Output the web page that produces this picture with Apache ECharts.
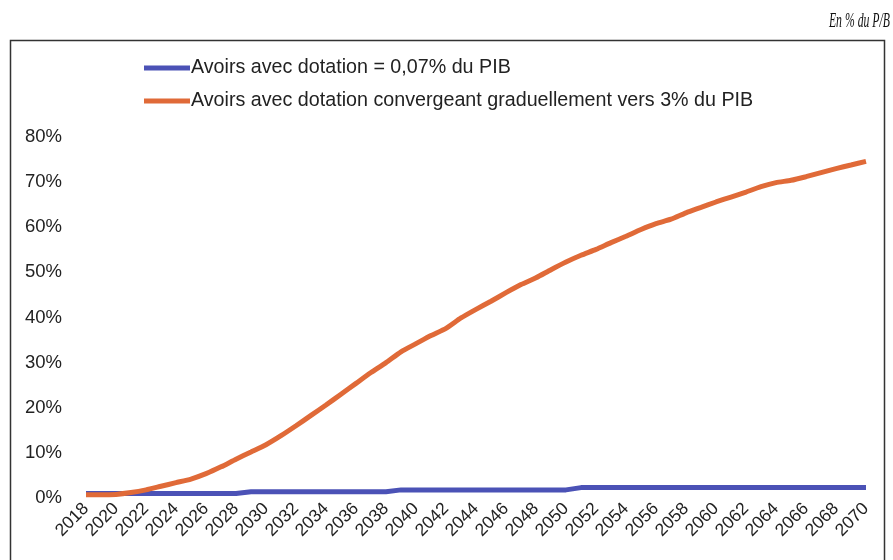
<!DOCTYPE html>
<html>
<head>
<meta charset="utf-8">
<script src="https://cdn.jsdelivr.net/npm/echarts@6/dist/echarts.min.js"></script>
<style>
  html, body { margin: 0; padding: 0; background: #fff; }
  #chart { width: 893px; height: 560px; }
</style>
</head>
<body>
<div id="chart"></div>
<script>
const years = [
  '2018', '2019', '2020', '2021', '2022', '2023', '2024', '2025', '2026', '2027',
  '2028', '2029', '2030', '2031', '2032', '2033', '2034', '2035', '2036', '2037',
  '2038', '2039', '2040', '2041', '2042', '2043', '2044', '2045', '2046', '2047',
  '2048', '2049', '2050', '2051', '2052', '2053', '2054', '2055', '2056', '2057',
  '2058', '2059', '2060', '2061', '2062', '2063', '2064', '2065', '2066', '2067',
  '2068', '2069', '2070'
]

// dotation constante 0,07% du PIB
const avoirsConstant = [
  1.0, 1.0, 1.0, 1.0, 1.0, 1.0, 1.0, 1.0, 1.0, 1.0,
  1.0, 1.4, 1.4, 1.4, 1.4, 1.4, 1.4, 1.4, 1.4, 1.4,
  1.4, 1.8, 1.8, 1.8, 1.8, 1.8, 1.8, 1.8, 1.8, 1.8,
  1.8, 1.8, 1.8, 2.3, 2.3, 2.3, 2.3, 2.3, 2.3, 2.3,
  2.3, 2.3, 2.3, 2.3, 2.3, 2.3, 2.3, 2.3, 2.3, 2.3,
  2.3, 2.3, 2.3
]

// dotation convergeant vers 3% du PIB
const avoirsConvergent = [
  0.7, 0.7, 0.8, 1.2, 1.8, 2.6, 3.4, 4.2, 5.4, 6.9,
  8.6, 10.2, 11.8, 13.8, 16.0, 18.3, 20.6, 23.0, 25.4, 27.8,
  30.0, 32.4, 34.2, 36.0, 37.6, 39.9, 41.8, 43.6, 45.5, 47.3,
  48.8, 50.6, 52.3, 53.8, 55.1, 56.6, 58.0, 59.5, 60.8, 61.8,
  63.2, 64.4, 65.6, 66.7, 67.8, 69.0, 69.9, 70.4, 71.2, 72.1,
  73.0, 73.8, 74.6
]

const seriesNames = [
  'Avoirs avec dotation = 0,07% du PIB',
  'Avoirs avec dotation convergeant graduellement vers 3% du PIB'
]

const colors = {
  blue: '#4b52b6',
  orange: '#e06a38',
  text: '#222222'
}

const chart = echarts.init(document.getElementById('chart'))

chart.setOption({
  animation: false,
  textStyle: { fontFamily: 'Liberation Sans, Arial, sans-serif' },
  graphic: [
    {
      type: 'rect',
      shape: { x: 10.5, y: 40.5, width: 874, height: 600 },
      style: { fill: 'none', stroke: '#333', lineWidth: 1.5 },
      silent: true
    },
    {
      type: 'text',
      x: 890,
      y: 21,
      scaleX: 0.56,
      style: {
        text: 'En % du P/B',
        align: 'right',
        verticalAlign: 'middle',
        font: 'italic 21px "Liberation Serif", "Times New Roman", serif',
        fill: '#111'
      }
    }
  ],
  legend: {
    orient: 'vertical',
    left: 139,
    top: 53,
    itemWidth: 46,
    itemHeight: 5,
    itemGap: 13,
    icon: 'rect',
    textStyle: { fontSize: 19.7, color: colors.text, padding: [0, 0, 0, -4] },
    data: seriesNames
  },
  grid: {
    left: 86,
    right: 27,
    top: 137,
    bottom: 62
  },
  xAxis: {
    type: 'category',
    data: years,
    boundaryGap: false,
    axisLine: { show: false },
    axisTick: { show: false },
    axisLabel: {
      interval: 1,
      rotate: 45,
      fontSize: 17.5,
      color: colors.text,
      margin: 8
    }
  },
  yAxis: {
    type: 'value',
    min: 0,
    max: 80,
    interval: 10,
    axisLine: { show: false },
    axisTick: { show: false },
    splitLine: { show: false },
    axisLabel: {
      formatter: '{value}%',
      fontSize: 18.5,
      color: colors.text,
      margin: 24
    }
  },
  series: [
    {
      name: seriesNames[0],
      type: 'line',
      data: avoirsConstant,
      showSymbol: false,
      lineStyle: { color: colors.blue, width: 5 },
      itemStyle: { color: colors.blue }
    },
    {
      name: seriesNames[1],
      type: 'line',
      data: avoirsConvergent,
      showSymbol: false,
      smooth: 0.2,
      lineStyle: { color: colors.orange, width: 5 },
      itemStyle: { color: colors.orange }
    }
  ]
})
</script>
</body>
</html>
